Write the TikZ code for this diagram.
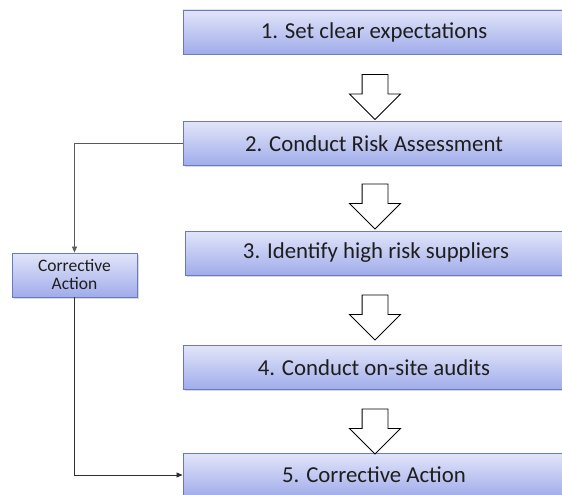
\documentclass[tikz,border=0pt]{standalone}
\usepackage{fontspec}
\setmainfont{Carlito}
\usetikzlibrary{arrows.meta,shapes.arrows,shadows}
\definecolor{boxtop}{HTML}{E2E5F9}
\definecolor{boxbot}{HTML}{A0ACEA}
\definecolor{boxline}{HTML}{6A79C0}
\definecolor{linkgray}{HTML}{5A5A5A}
\definecolor{linkdark}{HTML}{303030}
\definecolor{txt}{HTML}{1E1E1E}
\begin{document}
\begin{tikzpicture}[x=1pt,y=1pt,
  every node/.append style={text=txt},
  stage/.style={draw=boxline, line width=0.9pt, top color=boxtop, bottom color=boxbot,
    minimum width=382pt, minimum height=44pt, font=\fontsize{22.8}{26}\selectfont,
    drop shadow={opacity=0.3, shadow xshift=1.5pt, shadow yshift=-1.5pt}},
  side/.style={stage, minimum width=125pt, inner sep=1pt, align=center,
    font=\fontsize{17.5}{18}\selectfont},
  down/.style={single arrow, draw=black, fill=white, line width=0.9pt, rotate=-90,
    minimum height=45pt, minimum width=50pt, single arrow head extend=12.5pt,
    inner xsep=0pt, inner ysep=12.5pt},
  link/.style={line width=0.8pt, -{Triangle[length=6pt,width=5pt]}},
]
\useasboundingbox (0,0) rectangle (562,-495);
% main steps
\node[stage] (s1) at (374,-32) {1. Set clear expectations};
\node[stage] (s2) at (374,-143.5) {2. Conduct Risk Assessment};
\node[stage] (s3) at (376,-253) {3. Identify high risk suppliers};
\node[stage] (s4) at (374,-367.5) {4. Conduct on-site audits};
\node[stage] (s5) at (374,-475) {5. Corrective Action};
% block arrows between steps
\node[down] (a1) at (375,-90.5) {};
\node[down] (a2) at (375,-200) {};
\node[down] (a3) at (375,-311) {};
\node[down] (a4) at (375,-425) {};
% side loop
\node[side] (fix) at (74.5,-275) {Corrective\\Action};
\draw[link, draw=linkgray] (s2.west) -| (fix.north);
\draw[link, draw=linkdark] (fix.south) |- (s5.west);
\end{tikzpicture}
\end{document}
